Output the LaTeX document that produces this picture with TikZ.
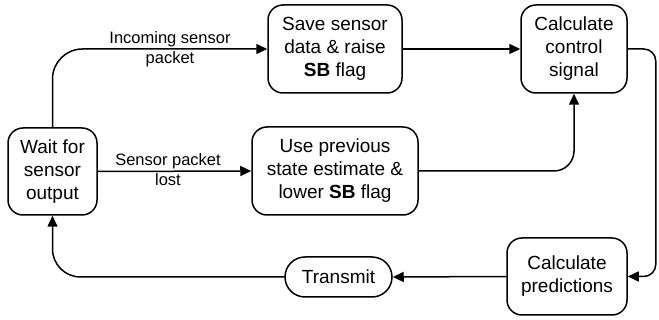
\documentclass[tikz,border=0pt]{standalone}
\usepackage{fontspec}
\setmainfont{Liberation Sans}
\usetikzlibrary{arrows.meta}
\begin{document}
\begin{tikzpicture}[x=1pt,y=-1pt,
  box/.style={draw,line width=1.5pt,rounded corners=15pt,inner sep=0pt,align=center,
    font=\fontsize{19}{23}\selectfont},
  pill/.style={draw,line width=1.5pt,rounded corners=20pt,inner sep=0pt,align=center,
    font=\fontsize{19}{23}\selectfont},
  lbl/.style={inner sep=0pt,align=center,font=\fontsize{16.5}{20}\selectfont},
  arr/.style={line width=1.5pt,-{Triangle[length=11pt,width=10pt]}},
  con/.style={line width=1.5pt}]
\useasboundingbox (0,0) rectangle (659,320);
\node[box,minimum width=89pt,minimum height=87pt] (wait) at (52.5,171.5) {Wait for\\sensor\\output};
\node[box,minimum width=134pt,minimum height=88pt] (save) at (335,49) {Save sensor\\data \& raise\\\textbf{SB} flag};
\node[box,minimum width=106pt,minimum height=88pt] (ctrl) at (574,49) {Calculate\\control\\signal};
\node[box,minimum width=166pt,minimum height=88pt] (use) at (335,171) {Use previous\\state estimate \&\\lower \textbf{SB} flag};
\node[box,minimum width=120pt,minimum height=77pt] (pred) at (567,276.5) {Calculate\\predictions};
\node[pill,minimum width=107pt,minimum height=40pt] (tx) at (338.5,277) {Transmit};
\node[lbl] (l1) at (170,49) {Incoming sensor\\packet};
\node[lbl] (l2) at (168,170) {Sensor packet\\lost};
\draw[arr,rounded corners=30pt] (wait.north) |- (save.west);
\draw[arr] (wait.east) -- (use.west);
\draw[arr] (save.east) -- (ctrl.west);
\draw[arr,rounded corners=20pt] (use.east) -| (ctrl.south);
\draw[arr,rounded corners=12pt] (ctrl.east) -- ++(28,0) |- (pred.east);
\draw[arr] (pred.west) -- (tx.east);
\draw[arr,rounded corners=28pt] (tx.west) -| (wait.south);
\end{tikzpicture}
\end{document}
